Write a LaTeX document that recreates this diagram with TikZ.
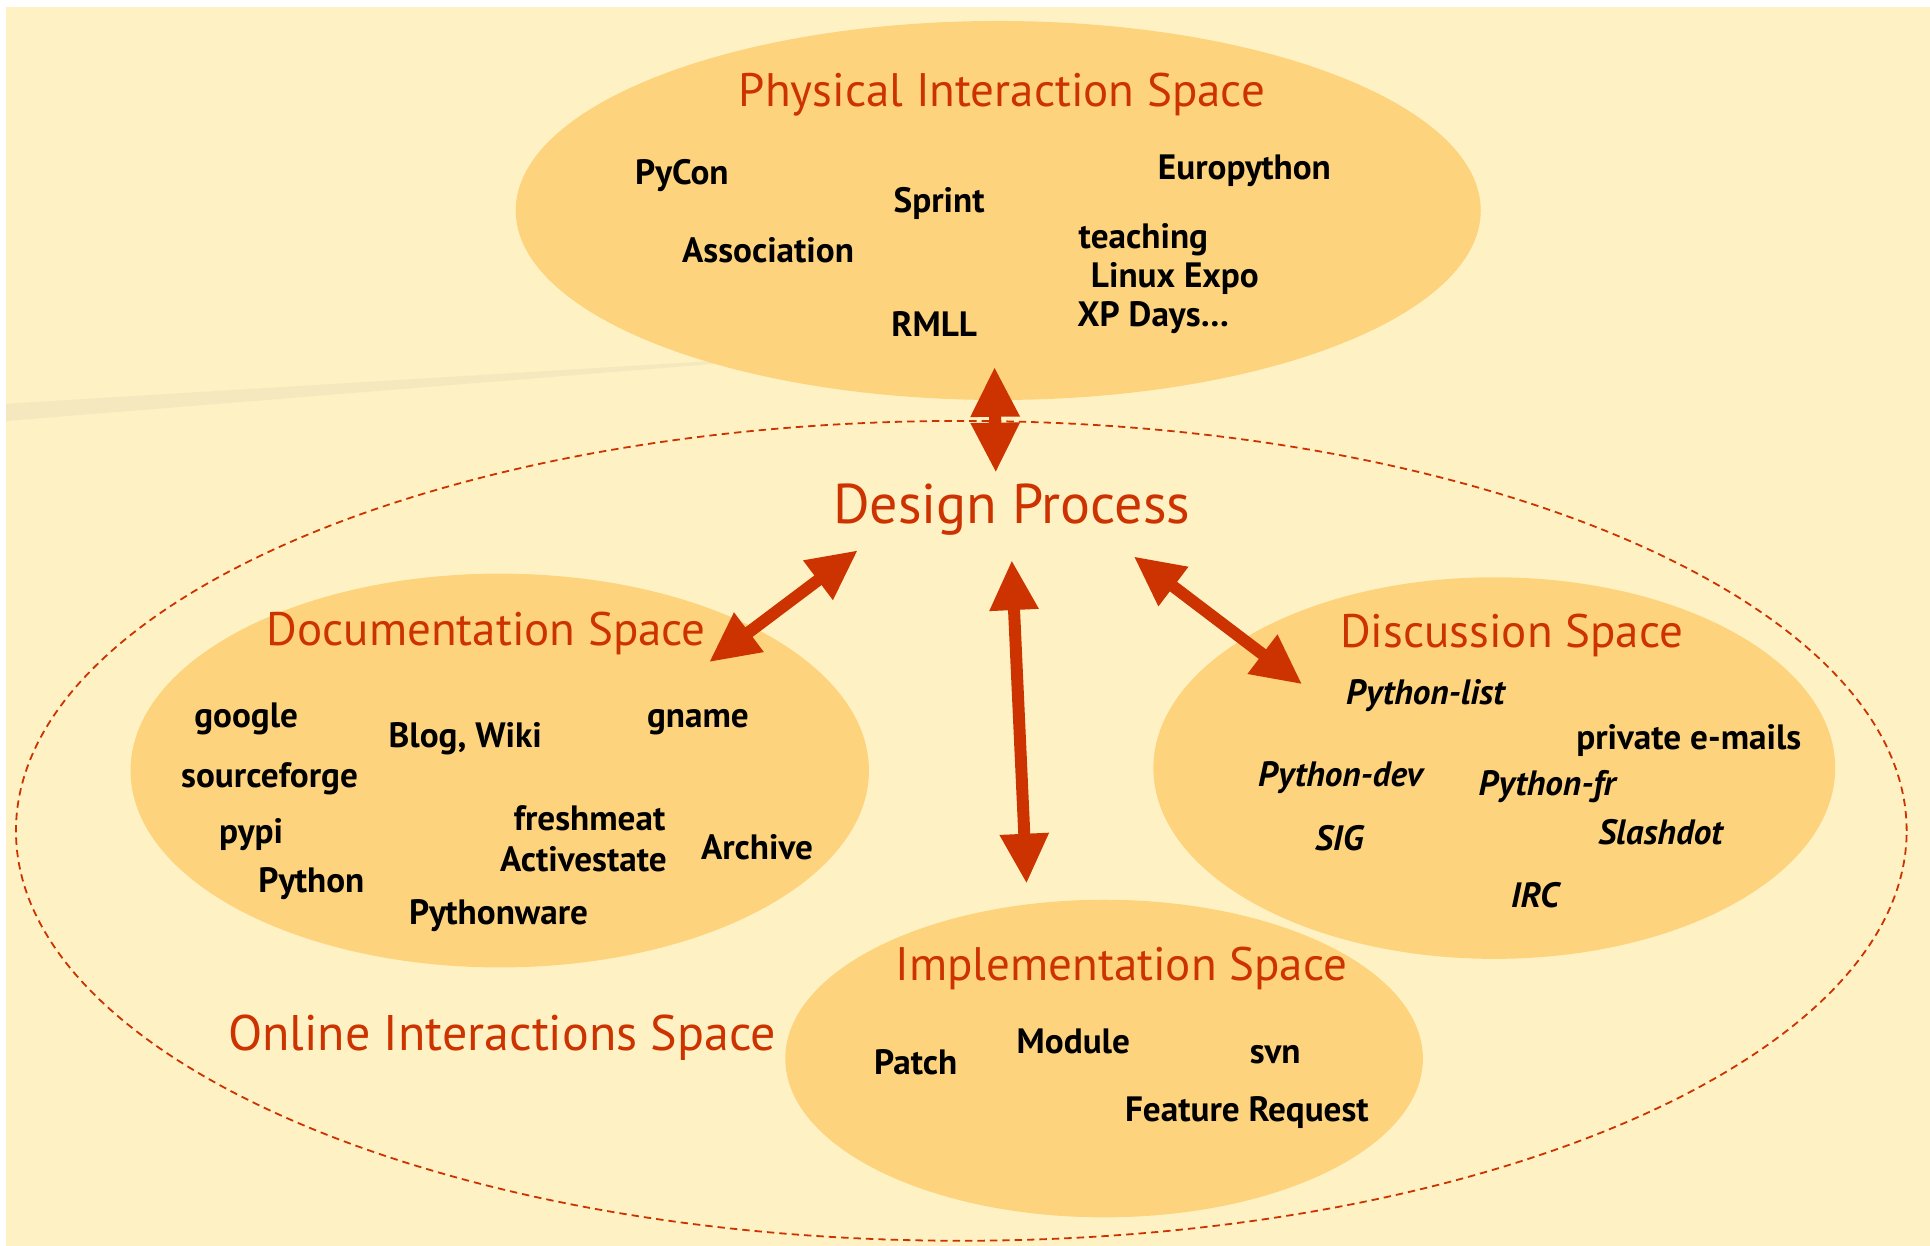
\documentclass[tikz,border=0pt]{standalone}
\usepackage{fontspec}
\setmainfont{PT Sans}
\usetikzlibrary{arrows.meta,shapes.geometric}
\definecolor{bgyellow}{HTML}{FEF2C4}
\definecolor{streak}{HTML}{F5E8BE}
\definecolor{ellfill}{HTML}{FED37D}
\definecolor{arrowred}{HTML}{CC3300}
\definecolor{titlered}{HTML}{CC3300}
\tikzset{
  spacefill/.style={ellipse, fill=ellfill, draw=none, inner sep=0pt},
  spacetitle/.style={text=titlered, font=\fontsize{23.5}{27}\selectfont, inner sep=0pt},
  bigtitle/.style={text=titlered, font=\fontsize{28}{32}\selectfont, inner sep=0pt},
  lbl/.style={text=black, font=\bfseries\fontsize{17.6}{20}\selectfont, inner sep=0pt},
  ilbl/.style={text=black, font=\bfseries\itshape\fontsize{17.6}{20}\selectfont, inner sep=0pt},
  bigarrow/.style={draw=arrowred, line width=6pt,
    {Triangle[length=25pt,width=23pt]}-{Triangle[length=25pt,width=23pt]}},
  onlinebound/.style={ellipse, draw=arrowred, line width=0.9pt,
    dash pattern=on 3.7pt off 2.5pt, fill=none, inner sep=0pt}
}
\begin{document}
\begin{tikzpicture}[x=0.6154pt,y=-0.6154pt]
\useasboundingbox (0,0) rectangle (1568,1012);
% background
\fill[white] (0,0) rectangle (1568,1012);
\fill[bgyellow] (5,6) rectangle (1568,1012);
\fill[streak] (5,328) -- (600,292) -- (600,294) -- (5,342) -- cycle;
% physical space
\node[spacefill, minimum width=482.5pt, minimum height=189.5pt] (phys) at (811,171) {};
% online dashed boundary
\node[onlinebound, minimum width=945.3pt, minimum height=409.9pt] (online) at (781,675) {};
% other spaces
\node[spacefill, minimum width=369.2pt, minimum height=196.9pt] (doc) at (406,626) {};
\node[spacefill, minimum width=340.9pt, minimum height=190.8pt] (disc) at (1214,624) {};
\node[spacefill, minimum width=318.8pt, minimum height=158.8pt] (impl) at (897,860) {};

% titles
\node[spacetitle] (physT) at (814,77) {Physical Interaction Space};
\node[bigtitle] (design) at (822,414) {Design Process};
\node[spacetitle] (docT) at (395,515) {Documentation Space};
\node[spacetitle] (discT) at (1228,516) {Discussion Space};
\node[spacetitle] (implT) at (911,787) {Implementation Space};
\node[bigtitle, font=\fontsize{25}{30}\selectfont] (onlineT) at (408,843) {Online Interactions Space};

% arrows
\coordinate (a1s) at (808,298); \coordinate (a1e) at (809,384);
\coordinate (a2s) at (697,447); \coordinate (a2e) at (576,538);
\coordinate (a3s) at (822,455); \coordinate (a3e) at (834,718);
\coordinate (a4s) at (921,452); \coordinate (a4e) at (1058,556);
\draw[bigarrow] (a1s) -- (a1e);
\draw[bigarrow] (a2s) -- (a2e);
\draw[bigarrow] (a3s) -- (a3e);
\draw[bigarrow] (a4s) -- (a4e);

% physical labels
\node[lbl] (pycon) at (554,143) {PyCon};
\node[lbl] (sprint) at (763,165) {Sprint};
\node[lbl] (europy) at (1011,139) {Europython};
\node[lbl] (assoc) at (624,203) {Association};
\node[lbl, anchor=west] (teach) at (876,195) {teaching};
\node[lbl, anchor=west] (linux) at (886,226) {Linux Expo};
\node[lbl, anchor=west] (xpdays) at (875,258) {XP Days…};
\node[lbl] (rmll) at (759,263) {RMLL};

% documentation labels
\node[lbl] (google) at (200,584) {google};
\node[lbl] (blog) at (378,600) {Blog, Wiki};
\node[lbl] (gname) at (567,587) {gname};
\node[lbl] (sforge) at (219,633) {sourceforge};
\node[lbl] (pypi) at (204,678) {pypi};
\node[lbl] (fresh) at (479,665) {freshmeat};
\node[lbl] (active) at (474,698) {Activestate};
\node[lbl] (archive) at (615,688) {Archive};
\node[lbl] (python) at (253,718) {Python};
\node[lbl] (pyware) at (405,744) {Pythonware};

% discussion labels
\node[ilbl] (pylist) at (1158,565) {Python-list};
\node[lbl] (privmail) at (1372,602) {private e-mails};
\node[ilbl] (pydev) at (1089,632) {Python-dev};
\node[ilbl] (pyfr) at (1257,639) {Python-fr};
\node[ilbl] (sig) at (1088,681) {SIG};
\node[ilbl] (slash) at (1349,676) {Slashdot};
\node[ilbl] (irc) at (1247,727) {IRC};

% implementation labels
\node[lbl] (patch) at (744,863) {Patch};
\node[lbl] (module) at (872,846) {Module};
\node[lbl] (svn) at (1036,857) {svn};
\node[lbl] (feature) at (1013,904) {Feature Request};
\end{tikzpicture}
\end{document}
